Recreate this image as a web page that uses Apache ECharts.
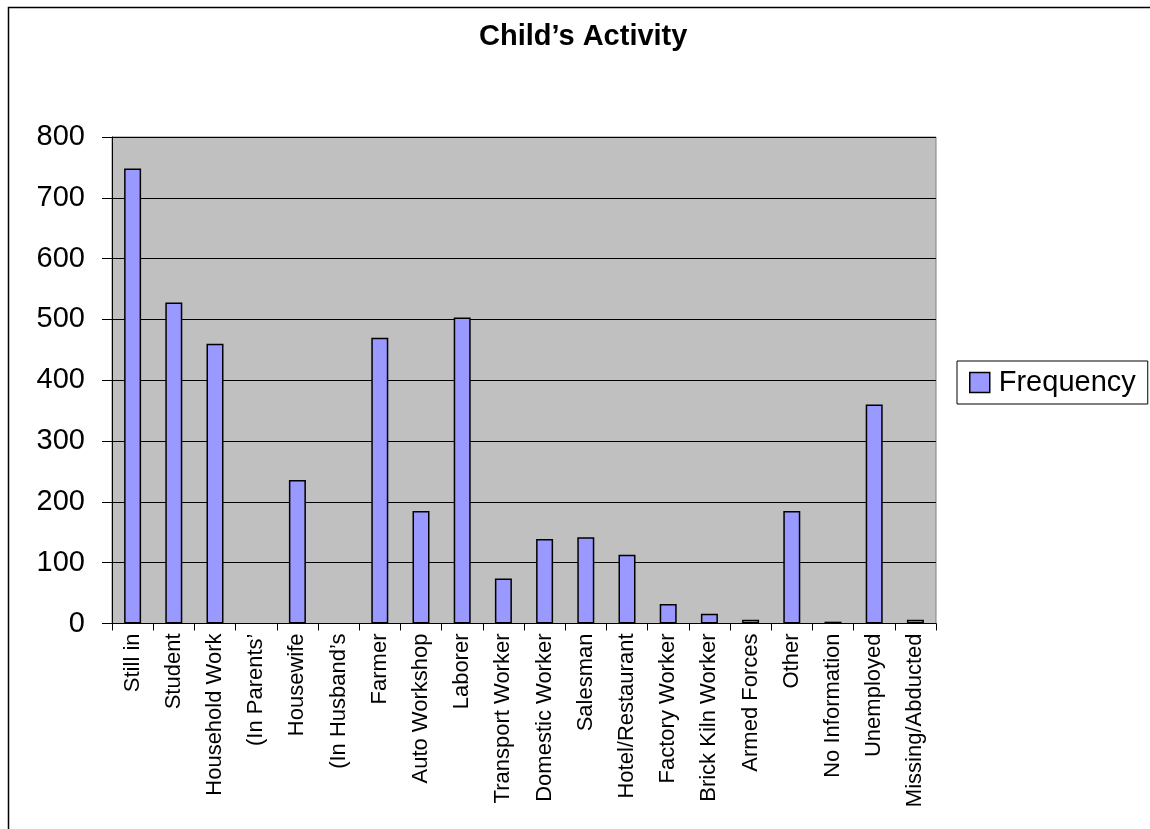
<!DOCTYPE html>
<html>
<head>
<meta charset="utf-8">
<title>Child’s Activity</title>
<script src="https://cdn.jsdelivr.net/npm/echarts@6/dist/echarts.min.js"></script>
<style>
  html, body { margin: 0; padding: 0; background: #ffffff; }
  #chart { width: 1150px; height: 829px; }
</style>
</head>
<body>
<div id="chart"></div>
<script>
// Activity categories along the horizontal axis
const categories = [
  'Still in', 'Student', 'Household Work', '(In Parents’', 'Housewife',
  '(In Husband’s', 'Farmer', 'Auto Workshop', 'Laborer', 'Transport Worker',
  'Domestic Worker', 'Salesman', 'Hotel/Restaurant', 'Factory Worker',
  'Brick Kiln Worker', 'Armed Forces', 'Other', 'No Information',
  'Unemployed', 'Missing/Abducted'
];

// Number of children per activity
const frequency = [
  748, 528, 460, 0, 236,
  0, 470, 185, 503, 74,
  139, 142, 113, 32,
  16, 6, 185, 3,
  360, 6
];

const seriesName = 'Frequency';
const chartTitle = 'Child’s Activity';

// Value axis range and step
const yMin = 0;
const yMax = 800;
const yStep = 100;

const FONT = '"Liberation Sans", Arial, sans-serif';

// Empty categories get no outline so nothing shows on the baseline
const barData = frequency.map(v => (v === 0
  ? { value: v, itemStyle: { borderWidth: 0 } }
  : { value: v }));

const chart = echarts.init(document.getElementById('chart'), null, { renderer: 'canvas' });

chart.setOption({
  backgroundColor: '#ffffff',
  animation: false,
  textStyle: { fontFamily: FONT, color: '#000' },
  graphic: [
    {
      // outer chart frame
      type: 'rect',
      shape: { x: 8.5, y: 7.5, width: 1200, height: 900 },
      style: { fill: 'none', stroke: '#000', lineWidth: 1.5 },
      silent: true,
      z: 100
    }
  ],
  title: {
    text: chartTitle,
    left: 479,
    top: 22,
    padding: 0,
    textStyle: { fontFamily: FONT, fontSize: 29, fontWeight: 'bold', color: '#000' }
  },
  legend: {
    data: [seriesName],
    left: 957,
    top: 361,
    orient: 'vertical',
    padding: [7, 12, 7, 12],
    backgroundColor: '#fff',
    borderColor: '#000',
    borderWidth: 1,
    itemWidth: 20,
    itemHeight: 20,
    icon: 'rect',
    itemStyle: { color: '#9999FF', borderColor: '#000', borderWidth: 1.5 },
    textStyle: { fontFamily: FONT, fontSize: 29, color: '#000', padding: [0, 0, 0, 4] }
  },
  grid: {
    left: 112,
    right: 214,
    top: 137,
    bottom: 205.5,
    show: true,
    backgroundColor: '#C0C0C0',
    borderColor: '#808080',
    borderWidth: 1,
    containLabel: false
  },
  xAxis: {
    type: 'category',
    data: categories,
    boundaryGap: true,
    axisLine: { show: true, lineStyle: { color: '#000', width: 1 } },
    axisTick: { show: true, alignWithLabel: false, length: 7, lineStyle: { color: '#000', width: 1 } },
    axisLabel: {
      interval: 0,
      rotate: 90,
      margin: 10,
      fontFamily: FONT,
      fontSize: 22,
      color: '#000'
    },
    splitLine: { show: false }
  },
  yAxis: {
    type: 'value',
    min: yMin,
    max: yMax,
    interval: yStep,
    axisLine: { show: true, lineStyle: { color: '#000', width: 1 } },
    axisTick: { show: true, inside: false, length: 10, lineStyle: { color: '#000', width: 1 } },
    axisLabel: {
      margin: 27,
      fontFamily: FONT,
      fontSize: 29,
      color: '#000'
    },
    splitLine: { show: true, lineStyle: { color: '#000', width: 1 } }
  },
  series: [
    {
      name: seriesName,
      type: 'bar',
      data: barData,
      barWidth: 17,
      itemStyle: { color: '#9999FF', borderColor: '#000', borderWidth: 1.5 }
    }
  ]
});
</script>
</body>
</html>
